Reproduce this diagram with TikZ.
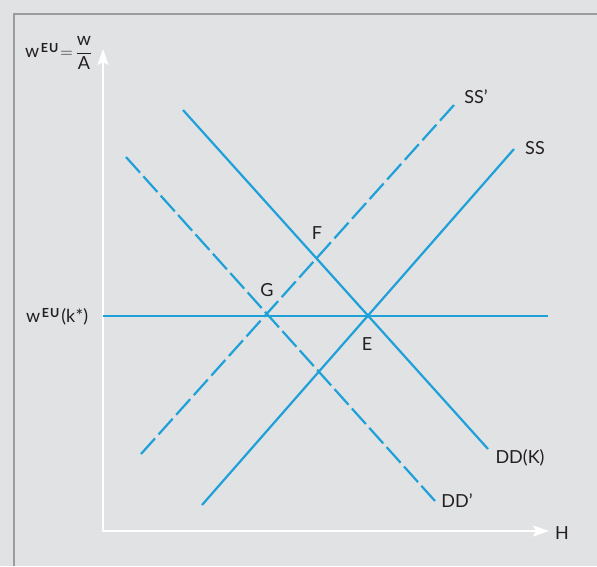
\documentclass[tikz,border=0pt]{standalone}
\usepackage{amsmath}
\usepackage{fontspec}
\setmainfont{Lato}
\usetikzlibrary{arrows.meta}
\definecolor{bg}{RGB}{225,226,228}
\definecolor{framegray}{RGB}{155,156,158}
\definecolor{curveblue}{RGB}{30,160,216}
\definecolor{txt}{RGB}{35,31,32}
\newcommand{\supEU}{\kern1.5pt\raisebox{4.5pt}{\fontsize{12.5}{13}\selectfont\bfseries E\kern1pt U}\kern2pt}
\tikzset{
  framestyle/.style={draw=framegray, line width=2.2pt},
  axisstyle/.style={draw=white, line width=2pt},
  solidcurve/.style={draw=curveblue, line width=2.2pt},
  dashedcurve/.style={draw=curveblue, line width=2.2pt, dash pattern=on 21pt off #1pt},
  lbl/.style={text=txt, inner sep=0pt, font=\fontsize{18}{21}\selectfont}
}
\begin{document}
\begin{tikzpicture}[x=1pt,y=-1pt]
\fill[bg] (0,0) rectangle (597,566);
\useasboundingbox (0,0) rectangle (597,566);
% frame
\coordinate (fTR) at (597,14);
\coordinate (fTL) at (14,14);
\coordinate (fBL) at (14,566);
\draw[framestyle] (fTR) -- (fTL) -- (fBL);
% axes
\coordinate (ytop) at (103,49);
\coordinate (O) at (103,531);
\coordinate (xend) at (549,531);
\draw[axisstyle, {Stealth[length=16pt,width=11pt,inset=3pt]}-{Stealth[length=16pt,width=11pt,inset=3pt]}] (ytop) -- (O) -- (xend);
% horizontal wage line
\coordinate (w1) at (103,316);
\coordinate (w2) at (548,316);
\draw[solidcurve] (w1) -- (w2);
% DD(K)
\coordinate (ddk1) at (183,110);
\coordinate (ddk2) at (488,449);
\draw[solidcurve] (ddk1) -- (ddk2);
% DD'
\coordinate (ddp1) at (126,157);
\coordinate (ddp2) at (435,501);
\draw[dashedcurve=5.0] (ddp1) -- (ddp2);
% SS'
\coordinate (ssp1) at (141,454);
\coordinate (ssp2) at (454,105);
\draw[dashedcurve=5.34] (ssp1) -- (ssp2);
% SS
\coordinate (ss1) at (202,505);
\coordinate (ss2) at (514,149);
\draw[solidcurve] (ss1) -- (ss2);
% labels
\node[lbl] (lSSp) at (476,97) {SS’};
\node[lbl] (lSS) at (535,148) {SS};
\node[lbl] (lDDK) at (520,458) {DD(K)};
\node[lbl] (lDDp) at (457,501) {DD’};
\node[lbl] (lH) at (562,533) {H};
\node[lbl] (lF) at (317,233) {F};
\node[lbl] (lG) at (267,290) {G};
\node[lbl] (lE) at (367,344) {E};
\node[lbl, anchor=base west] (lwk) at (26,322) {w\supEU(k\kern0.5pt*)};
\node[lbl, anchor=west] (lwA) at (25,53) {$\text{w\supEU}{=}\,\dfrac{\text{w}}{\text{A}}$};
\end{tikzpicture}
\end{document}
